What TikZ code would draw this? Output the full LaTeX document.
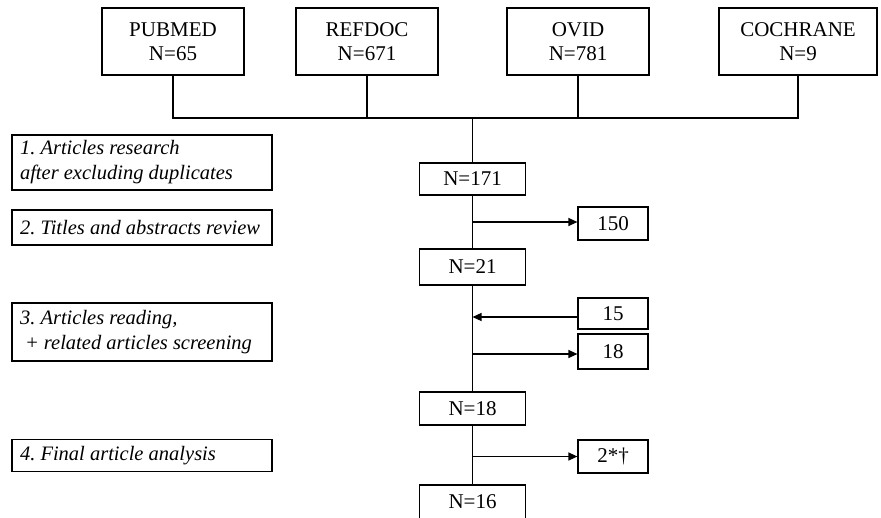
\documentclass[tikz,border=0pt]{standalone}
\usepackage{fontspec}
\setmainfont{Liberation Serif}
\usetikzlibrary{arrows.meta}
\usetikzlibrary{positioning}

\tikzset{
  base/.style = {draw, line width=1.2pt, font=\fontsize{21}{23.5}\selectfont, align=center, inner sep=0pt},
  source/.style = {base, minimum width=142pt, minimum height=67pt},
  count/.style = {base, minimum width=106pt},
  stepbox/.style = {draw, line width=1.2pt, font=\fontsize{20.5}{25}\selectfont\itshape\frenchspacing,
    text width=244pt, inner xsep=8pt, inner ysep=0pt, align=flush left},
  excl/.style = {base, minimum width=70pt},
  flow/.style = {line width=1.2pt},
  arr/.style = {flow, -{Triangle[length=9pt,width=8pt]}}
}

\begin{document}
\begin{tikzpicture}[x=1pt,y=-1pt]
      \useasboundingbox (0,0) rectangle (881,517);
      \clip (0,0) rectangle (881,517);

      \node[source] (pubmed) at (173,41.5) {PUBMED\\N=65};
      \node[source] (refdoc) at (367,41.5) {REFDOC\\N=671};
      \node[source] (ovid) at (578,41.5) {OVID\\N=781};
      \node[source, minimum width=158pt] (cochrane) at (798,41.5) {COCHRANE\\N=9};
      \coordinate (join) at (472.5,118);

      \node[count, minimum height=32pt] (n171) at (472.5,179) {N=171};
      \node[count, minimum height=36pt] (n21) at (472.5,267) {N=21};
      \node[count, minimum height=33pt] (n18) at (472.5,408.5) {N=18};
      \node[count, minimum height=34pt] (n16) at (472.5,502) {N=16};

      \node[stepbox, minimum height=55pt] (s1) at (142,162.5) {1. Articles research\\after excluding duplicates};
      \node[stepbox, minimum height=35pt] (s2) at (142,227.5) {2. Titles and abstracts review};
      \node[stepbox, minimum height=58pt] (s3) at (142,332) {3. Articles reading,\\\hspace*{5pt}+ related articles screening};
      \node[stepbox, minimum height=32pt] (s4) at (142,455.5) {4. Final article analysis};

      \node[excl, minimum height=33pt] (e150) at (613,223.5) {150};
      \node[excl, minimum height=31pt] (e15) at (613,313.5) {15};
      \node[excl, minimum height=35pt] (e18) at (613,351.5) {18};
      \node[excl, minimum height=33pt] (e2) at (613,456.5) {2*†};

      \draw[flow] (pubmed.south) |- (join) -| (cochrane.south);
      \draw[flow] (refdoc.south) -- (refdoc.south |- join);
      \draw[flow] (ovid.south) -- (ovid.south |- join);
      \draw[flow] (join) -- (n171.north);
      \draw[flow] (n171.south) -- (n21.north);
      \draw[flow] (n21.south) -- (n18.north);
      \draw[flow] (n18.south) -- (n16.north);

      \draw[arr] ([yshift=1.5pt]e150.west -| n171.south) -- ([yshift=1.5pt]e150.west);
      \draw[arr] ([yshift=-3.5pt]e15.west) -- ([yshift=-3.5pt]e15.west -| n21.south);
      \draw[arr] ([yshift=-2.5pt]e18.west -| n21.south) -- ([yshift=-2.5pt]e18.west);
      \draw[arr] (e2.west -| n18.south) -- (e2.west);
    \end{tikzpicture}
\end{document}
